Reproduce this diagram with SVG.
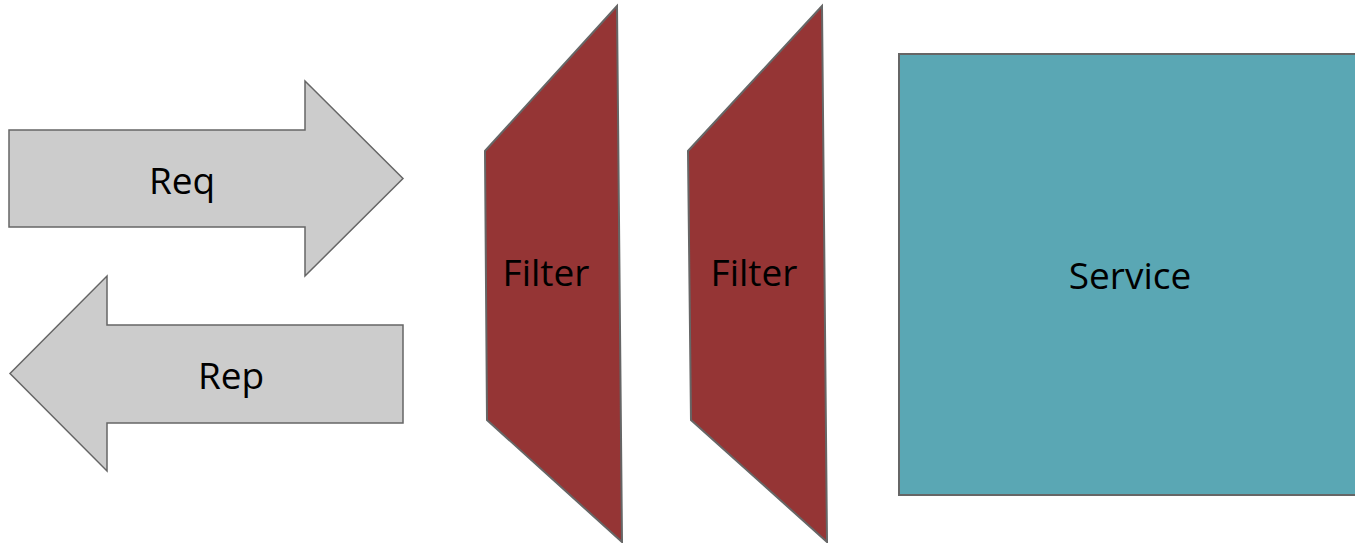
<svg xmlns="http://www.w3.org/2000/svg" width="1355" height="543" viewBox="0 0 1355 543">
<style>
.arrow{fill:#cccccc;stroke:#666666;stroke-width:1.5;stroke-linejoin:miter}
.filter{fill:#953535;stroke:#666666;stroke-width:2}
.service{fill:#5aa7b4;stroke:#666666;stroke-width:2}
.lbl{font-family:"Open Sans","Noto Sans",sans-serif;font-size:37px;fill:#000000;text-anchor:middle}
</style>
<rect width="1355" height="543" fill="#ffffff"/>
<g id="req">
<polygon class="arrow" points="9,130 305,130 305,81 403,178.5 305,276 305,227 9,227"/>
<text class="lbl" x="182" y="194">Req</text>
</g>
<g id="rep">
<polygon class="arrow" points="403,325 107,325 107,276 10,373.5 107,471 107,423 403,423"/>
<text class="lbl" x="231" y="389">Rep</text>
</g>
<g id="filter1">
<polygon class="filter" points="617,6 485,151 487,420 622,542"/>
<text class="lbl" x="546" y="286">Filter</text>
</g>
<g id="filter2">
<polygon class="filter" points="822,6 688,151 691,420 827,542"/>
<text class="lbl" x="754" y="286">Filter</text>
</g>
<g id="service">
<rect class="service" x="899" y="54" width="460" height="441"/>
<text class="lbl" x="1130" y="289">Service</text>
</g>
<g id="connectors"></g>
</svg>
